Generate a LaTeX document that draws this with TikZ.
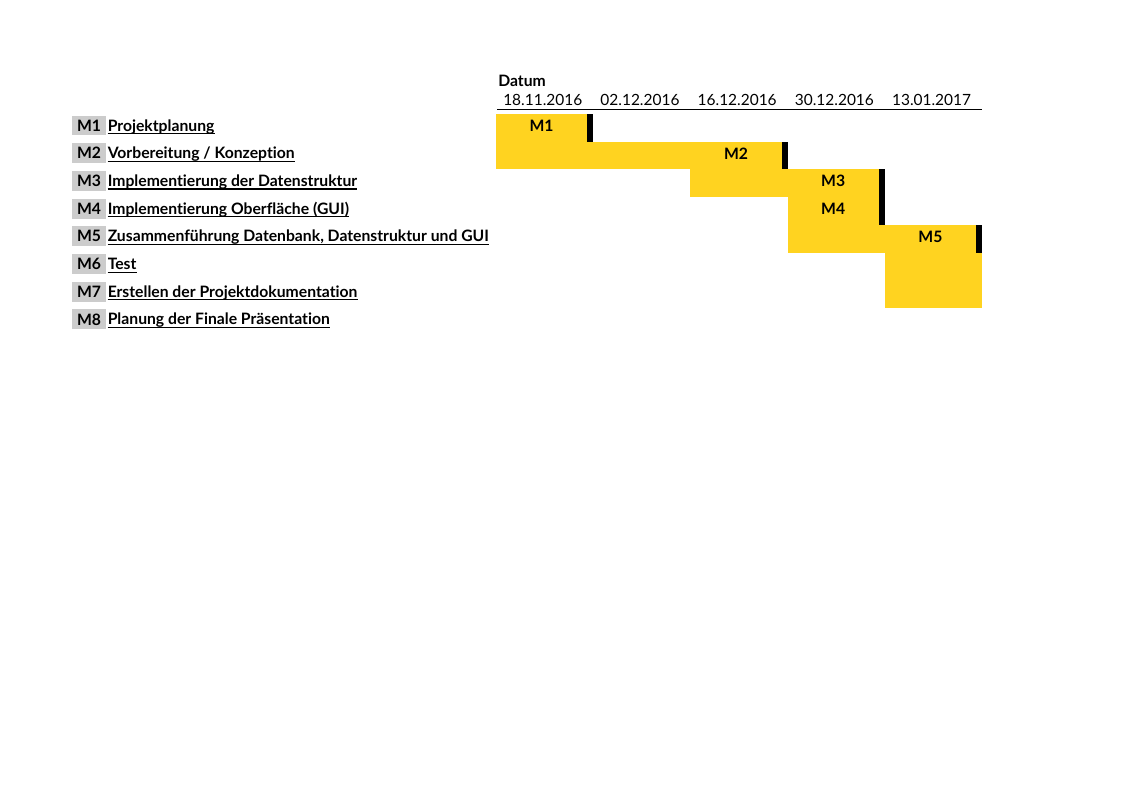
\documentclass[tikz,border=0pt]{standalone}
\usepackage{fontspec}
\setmainfont{Lato}[Ligatures=NoCommon]
\usetikzlibrary{positioning}
\usetikzlibrary{calc}

\definecolor{balkengelb}{HTML}{FFD320}
\definecolor{kastengrau}{HTML}{CCCCCC}

\tikzset{
  kasten/.style={fill=kastengrau, inner sep=0pt, minimum width=25.5pt, minimum height=15pt, font=\fontsize{11.8}{14}\selectfont\bfseries},
  aufgabe/.style={inner sep=0pt, anchor=base west, font=\fontsize{11.8}{14}\selectfont\bfseries},
  datum/.style={inner sep=0pt, anchor=base west, font=\fontsize{11.6}{14}\selectfont},
  meilenstein/.style={inner sep=0pt, anchor=base, font=\fontsize{11.8}{14}\selectfont\bfseries}
}

\begin{document}
\begin{tikzpicture}[x=0.7504pt, y=-0.7504pt]
	% page size in pixels
	\useasboundingbox (0,0) rectangle (1122,793);

	% row height, top of first row, column width, left of chart
	\def\zeile{27.7}
	\def\oben{114}
	\def\spalte{97.2}
	\def\links{496}

	% yellow bars: row / first column / last column
	\foreach \r/\von/\bis in {1/0/1, 2/0/3, 3/2/4, 4/3/4, 5/3/5, 6/4/5, 7/4/5} {
		\fill[balkengelb] ({\links+\spalte*\von}, {\oben+\zeile*(\r-1)}) rectangle ({\links+\spalte*\bis}, {\oben+\zeile*\r});
	}

	% black end markers
	\foreach \r/\bis in {1/1, 2/3, 3/4, 4/4, 5/5} {
		\fill[black] ({\links+\spalte*\bis-6}, {\oben+\zeile*(\r-1)}) rectangle ({\links+\spalte*\bis}, {\oben+\zeile*\r});
	}

	% milestone names inside the bars
	\foreach \r/\c in {1/0, 2/2, 3/3, 4/3, 5/4} {
		\node[meilenstein] (b\r) at ({\links+\spalte*\c+\spalte/2-3}, {\oben+\zeile*(\r-1)+17.3}) {M\r};
	}

	% header
	\node[datum, font=\fontsize{11.8}{14}\selectfont\bfseries] (kopf) at (498, 86.4) {Datum};
	\foreach \d [count=\c from 0] in {18.11.2016, 02.12.2016, 16.12.2016, 30.12.2016, 13.01.2017} {
		\node[datum] (d\c) at ({\links+\spalte*\c+7}, 105.9) {\d};
	}
	\draw[line width=1.1pt] (497, 109.5) -- (982, 109.5);

	% task list on the left
	\foreach \t [count=\i] in {Projektplanung, Vorbereitung / Konzeption, Implementierung der Datenstruktur, Implementierung Oberfläche (GUI), {Zusammenführung Datenbank, Datenstruktur und GUI}, Test, Erstellen der Projektdokumentation, Planung der Finale Präsentation} {
		\node[kasten] (m\i) at (89, {\oben+\zeile*(\i-1)+11.5}) {M\i};
		\node[aufgabe] (t\i) at (107.5, {\oben+\zeile*(\i-1)+17}) {\t};
		\draw[line width=0.9pt] ($(t\i.base west)+(0,2.6)$) -- ($(t\i.base east)+(0,2.6)$);
	}
\end{tikzpicture}
\end{document}
